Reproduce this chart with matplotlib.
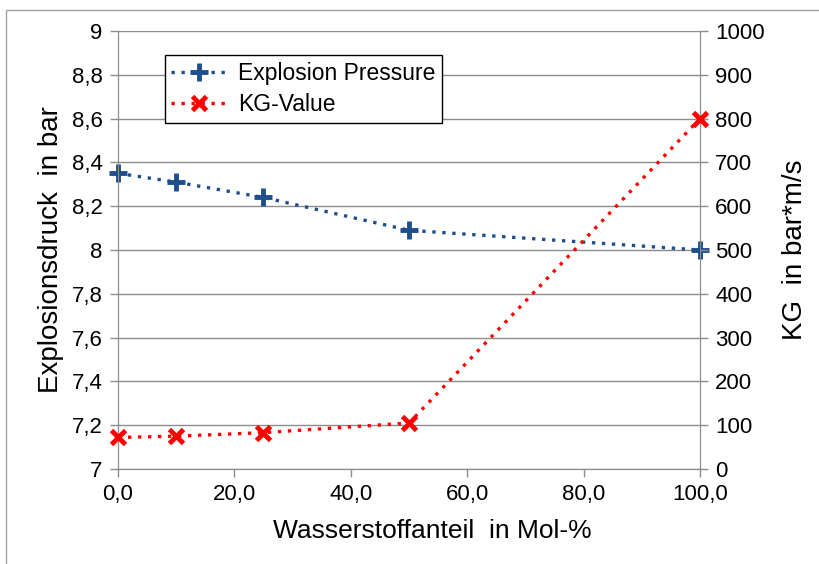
import matplotlib

matplotlib.use("Agg")
import matplotlib.pyplot as plt
from matplotlib.lines import Line2D
from matplotlib.patches import Rectangle

plt.rcParams["font.family"] = ["Liberation Sans", "DejaVu Sans"]

# data
h2_share = [0.0, 10.0, 25.0, 50.0, 100.0]
pressure = [8.35, 8.31, 8.24, 8.09, 8.00]
kg_value = [72, 75, 83, 105, 800]

x_ticks = [0, 20, 40, 60, 80, 100]
p_ticks = [7.0, 7.2, 7.4, 7.6, 7.8, 8.0, 8.2, 8.4, 8.6, 8.8, 9.0]
p_labels = ["7", "7,2", "7,4", "7,6", "7,8", "8", "8,2", "8,4", "8,6", "8,8", "9"]
kg_ticks = list(range(0, 1001, 100))

BLUE = "#1f4e8c"
RED = "#ff0000"
GRID = "#8c8c8c"
DOTS = (0, (1, 2.0))

fig = plt.figure(figsize=(8.2, 5.64), dpi=100)
ax = fig.add_axes([118 / 820, 1 - 469 / 564, (700 - 118) / 820, (469 - 31) / 564])
ax2 = ax.twinx()

ax.plot(h2_share, pressure, color=BLUE, linestyle=DOTS, linewidth=2.4, zorder=3)
ax.plot(h2_share, pressure, linestyle="none", marker="+", markersize=13,
        markeredgewidth=3.5, color=BLUE, zorder=4, clip_on=False)
ax2.plot(h2_share, kg_value, color=RED, linestyle=DOTS, linewidth=2.4, zorder=3)
ax2.plot(h2_share, kg_value, linestyle="none", marker="x", markersize=10,
         markeredgewidth=3.5, color=RED, zorder=4, clip_on=False)

ax.set_xlim(0, 100)
ax.set_ylim(7, 9)
ax2.set_ylim(0, 1000)

ax.set_xticks(x_ticks)
ax.set_xticklabels([f"{v:.1f}".replace(".", ",") for v in x_ticks])
ax.set_yticks(p_ticks)
ax.set_yticklabels(p_labels)
ax2.set_yticks(kg_ticks)

ax.grid(True, axis="y", color=GRID, linewidth=1.0)
ax.set_axisbelow(True)

for a in (ax, ax2):
    a.spines["top"].set_visible(False)
    for side in ("left", "right", "bottom"):
        a.spines[side].set_color(GRID)
    a.tick_params(colors="black", labelsize=16, length=6, width=1, pad=5)
    a.tick_params(axis="both", color=GRID)

ax.set_xlabel("Wasserstoffanteil  in Mol-%", fontsize=19, labelpad=10, x=0.54)
ax.set_ylabel("Explosionsdruck  in bar", fontsize=20, labelpad=6)
ax2.set_ylabel("KG  in bar*m/s", fontsize=20, labelpad=12)

handles = [
    Line2D([0], [0], color=BLUE, linestyle=DOTS, linewidth=2.4,
           marker="+", markersize=13, markeredgewidth=3.5),
    Line2D([0], [0], color=RED, linestyle=DOTS, linewidth=2.4,
           marker="x", markersize=10, markeredgewidth=3.5),
]
leg = ax.legend(handles, ["Explosion Pressure", "KG-Value"], loc="upper left",
                bbox_to_anchor=(0.08, 0.945), fontsize=16.5, frameon=True,
                fancybox=False, edgecolor="black", framealpha=1,
                handlelength=2.4, handletextpad=0.5, borderpad=0.3,
                labelspacing=0.35, borderaxespad=0)
leg.get_frame().set_linewidth(1.0)

fig.patches.append(Rectangle((6 / 820, -0.2), 1.2, 1.2 - 10 / 564, transform=fig.transFigure,
                             fill=False, edgecolor="#a0a0a0", linewidth=1.0))

fig.savefig("out.png", dpi=100)
